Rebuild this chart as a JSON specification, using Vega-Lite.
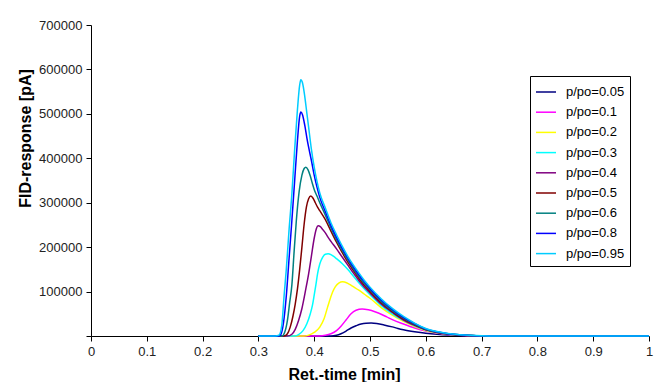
{
  "$schema": "https://vega.github.io/schema/vega-lite/v6.json",
  "width": 558,
  "height": 311,
  "padding": {"left": 17, "top": 19, "right": 5, "bottom": 0},
  "background": "white",
  "config": {
    "view": {"stroke": null},
    "axis": {
      "grid": false,
      "domainColor": "black",
      "tickColor": "black",
      "labelFont": "Liberation Sans",
      "labelFontSize": 13,
      "labelColor": "#222",
      "titleFont": "Liberation Sans",
      "titleFontSize": 16,
      "titleFontWeight": "bold",
      "titleColor": "black"
    }
  },
  "datasets": {
    "curves": [
      {"s":"p/po=0.05","t":0.30,"v":0},{"s":"p/po=0.05","t":0.43,"v":0},{"s":"p/po=0.05","t":0.44,"v":1500},{"s":"p/po=0.05","t":0.448,"v":5000},{"s":"p/po=0.05","t":0.457,"v":11000},{"s":"p/po=0.05","t":0.466,"v":18000},{"s":"p/po=0.05","t":0.475,"v":23000},{"s":"p/po=0.05","t":0.484,"v":27000},{"s":"p/po=0.05","t":0.493,"v":28700},{"s":"p/po=0.05","t":0.502,"v":29000},{"s":"p/po=0.05","t":0.512,"v":28000},{"s":"p/po=0.05","t":0.525,"v":25000},{"s":"p/po=0.05","t":0.54,"v":20500},{"s":"p/po=0.05","t":0.55,"v":17000},{"s":"p/po=0.05","t":0.56,"v":14000},{"s":"p/po=0.05","t":0.58,"v":9500},{"s":"p/po=0.05","t":0.60,"v":6000},{"s":"p/po=0.05","t":0.62,"v":3700},{"s":"p/po=0.05","t":0.64,"v":2100},{"s":"p/po=0.05","t":0.66,"v":1100},{"s":"p/po=0.05","t":0.68,"v":500},{"s":"p/po=0.05","t":0.70,"v":200},{"s":"p/po=0.05","t":0.73,"v":40},{"s":"p/po=0.05","t":0.76,"v":0},{"s":"p/po=0.05","t":1.0,"v":0},

      {"s":"p/po=0.1","t":0.30,"v":0},{"s":"p/po=0.1","t":0.41,"v":0},{"s":"p/po=0.1","t":0.42,"v":1500},{"s":"p/po=0.1","t":0.43,"v":5000},{"s":"p/po=0.1","t":0.44,"v":12000},{"s":"p/po=0.1","t":0.448,"v":22000},{"s":"p/po=0.1","t":0.457,"v":36000},{"s":"p/po=0.1","t":0.466,"v":50000},{"s":"p/po=0.1","t":0.475,"v":58000},{"s":"p/po=0.1","t":0.486,"v":61000},{"s":"p/po=0.1","t":0.497,"v":59000},{"s":"p/po=0.1","t":0.51,"v":54000},{"s":"p/po=0.1","t":0.52,"v":49000},{"s":"p/po=0.1","t":0.53,"v":43000},{"s":"p/po=0.1","t":0.54,"v":37000},{"s":"p/po=0.1","t":0.56,"v":27000},{"s":"p/po=0.1","t":0.58,"v":18000},{"s":"p/po=0.1","t":0.60,"v":11000},{"s":"p/po=0.1","t":0.62,"v":6500},{"s":"p/po=0.1","t":0.64,"v":3600},{"s":"p/po=0.1","t":0.66,"v":1800},{"s":"p/po=0.1","t":0.68,"v":800},{"s":"p/po=0.1","t":0.70,"v":300},{"s":"p/po=0.1","t":0.73,"v":60},{"s":"p/po=0.1","t":0.76,"v":0},{"s":"p/po=0.1","t":1.0,"v":0},

      {"s":"p/po=0.2","t":0.30,"v":0},{"s":"p/po=0.2","t":0.382,"v":0},{"s":"p/po=0.2","t":0.39,"v":2000},{"s":"p/po=0.2","t":0.40,"v":8000},{"s":"p/po=0.2","t":0.41,"v":20000},{"s":"p/po=0.2","t":0.418,"v":40000},{"s":"p/po=0.2","t":0.424,"v":65000},{"s":"p/po=0.2","t":0.429,"v":85000},{"s":"p/po=0.2","t":0.433,"v":99000},{"s":"p/po=0.2","t":0.438,"v":111000},{"s":"p/po=0.2","t":0.444,"v":119000},{"s":"p/po=0.2","t":0.451,"v":122000},{"s":"p/po=0.2","t":0.458,"v":120000},{"s":"p/po=0.2","t":0.465,"v":115000},{"s":"p/po=0.2","t":0.47,"v":111000},{"s":"p/po=0.2","t":0.48,"v":103000},{"s":"p/po=0.2","t":0.49,"v":94000},{"s":"p/po=0.2","t":0.50,"v":85000},{"s":"p/po=0.2","t":0.52,"v":64000},{"s":"p/po=0.2","t":0.54,"v":47000},{"s":"p/po=0.2","t":0.56,"v":33000},{"s":"p/po=0.2","t":0.58,"v":21500},{"s":"p/po=0.2","t":0.60,"v":12500},{"s":"p/po=0.2","t":0.62,"v":7200},{"s":"p/po=0.2","t":0.64,"v":4000},{"s":"p/po=0.2","t":0.66,"v":2000},{"s":"p/po=0.2","t":0.68,"v":900},{"s":"p/po=0.2","t":0.70,"v":350},{"s":"p/po=0.2","t":0.73,"v":80},{"s":"p/po=0.2","t":0.76,"v":0},{"s":"p/po=0.2","t":1.0,"v":0},

      {"s":"p/po=0.3","t":0.30,"v":0},{"s":"p/po=0.3","t":0.365,"v":0},{"s":"p/po=0.3","t":0.372,"v":3000},{"s":"p/po=0.3","t":0.38,"v":12000},{"s":"p/po=0.3","t":0.387,"v":28000},{"s":"p/po=0.3","t":0.393,"v":50000},{"s":"p/po=0.3","t":0.397,"v":70000},{"s":"p/po=0.3","t":0.40,"v":92000},{"s":"p/po=0.3","t":0.403,"v":115000},{"s":"p/po=0.3","t":0.406,"v":140000},{"s":"p/po=0.3","t":0.41,"v":162000},{"s":"p/po=0.3","t":0.415,"v":177000},{"s":"p/po=0.3","t":0.42,"v":184000},{"s":"p/po=0.3","t":0.425,"v":185000},{"s":"p/po=0.3","t":0.43,"v":183000},{"s":"p/po=0.3","t":0.435,"v":179000},{"s":"p/po=0.3","t":0.44,"v":174000},{"s":"p/po=0.3","t":0.45,"v":163000},{"s":"p/po=0.3","t":0.46,"v":150000},{"s":"p/po=0.3","t":0.47,"v":135000},{"s":"p/po=0.3","t":0.48,"v":120000},{"s":"p/po=0.3","t":0.49,"v":106000},{"s":"p/po=0.3","t":0.50,"v":93000},{"s":"p/po=0.3","t":0.52,"v":69000},{"s":"p/po=0.3","t":0.54,"v":50000},{"s":"p/po=0.3","t":0.56,"v":35000},{"s":"p/po=0.3","t":0.58,"v":23000},{"s":"p/po=0.3","t":0.60,"v":13500},{"s":"p/po=0.3","t":0.62,"v":7700},{"s":"p/po=0.3","t":0.64,"v":4200},{"s":"p/po=0.3","t":0.66,"v":2200},{"s":"p/po=0.3","t":0.68,"v":1000},{"s":"p/po=0.3","t":0.70,"v":400},{"s":"p/po=0.3","t":0.73,"v":100},{"s":"p/po=0.3","t":0.76,"v":0},{"s":"p/po=0.3","t":1.0,"v":0},

      {"s":"p/po=0.4","t":0.30,"v":0},{"s":"p/po=0.4","t":0.352,"v":0},{"s":"p/po=0.4","t":0.36,"v":4000},{"s":"p/po=0.4","t":0.366,"v":15000},{"s":"p/po=0.4","t":0.372,"v":35000},{"s":"p/po=0.4","t":0.378,"v":62000},{"s":"p/po=0.4","t":0.385,"v":106000},{"s":"p/po=0.4","t":0.39,"v":140000},{"s":"p/po=0.4","t":0.395,"v":180000},{"s":"p/po=0.4","t":0.40,"v":220000},{"s":"p/po=0.4","t":0.404,"v":242000},{"s":"p/po=0.4","t":0.407,"v":248000},{"s":"p/po=0.4","t":0.411,"v":246000},{"s":"p/po=0.4","t":0.415,"v":240000},{"s":"p/po=0.4","t":0.42,"v":232000},{"s":"p/po=0.4","t":0.425,"v":222000},{"s":"p/po=0.4","t":0.43,"v":213000},{"s":"p/po=0.4","t":0.44,"v":196000},{"s":"p/po=0.4","t":0.45,"v":178000},{"s":"p/po=0.4","t":0.46,"v":160000},{"s":"p/po=0.4","t":0.47,"v":142000},{"s":"p/po=0.4","t":0.48,"v":125000},{"s":"p/po=0.4","t":0.49,"v":110000},{"s":"p/po=0.4","t":0.50,"v":97000},{"s":"p/po=0.4","t":0.52,"v":72000},{"s":"p/po=0.4","t":0.54,"v":53000},{"s":"p/po=0.4","t":0.56,"v":36000},{"s":"p/po=0.4","t":0.58,"v":24000},{"s":"p/po=0.4","t":0.60,"v":14000},{"s":"p/po=0.4","t":0.62,"v":8000},{"s":"p/po=0.4","t":0.64,"v":4400},{"s":"p/po=0.4","t":0.66,"v":2300},{"s":"p/po=0.4","t":0.68,"v":1100},{"s":"p/po=0.4","t":0.70,"v":400},{"s":"p/po=0.4","t":0.73,"v":100},{"s":"p/po=0.4","t":0.76,"v":0},{"s":"p/po=0.4","t":1.0,"v":0},

      {"s":"p/po=0.5","t":0.30,"v":0},{"s":"p/po=0.5","t":0.346,"v":0},{"s":"p/po=0.5","t":0.352,"v":5000},{"s":"p/po=0.5","t":0.357,"v":20000},{"s":"p/po=0.5","t":0.362,"v":45000},{"s":"p/po=0.5","t":0.366,"v":72000},{"s":"p/po=0.5","t":0.37,"v":106000},{"s":"p/po=0.5","t":0.374,"v":150000},{"s":"p/po=0.5","t":0.378,"v":200000},{"s":"p/po=0.5","t":0.382,"v":252000},{"s":"p/po=0.5","t":0.386,"v":290000},{"s":"p/po=0.5","t":0.39,"v":309000},{"s":"p/po=0.5","t":0.394,"v":315000},{"s":"p/po=0.5","t":0.398,"v":310000},{"s":"p/po=0.5","t":0.402,"v":300000},{"s":"p/po=0.5","t":0.406,"v":290000},{"s":"p/po=0.5","t":0.41,"v":282000},{"s":"p/po=0.5","t":0.42,"v":262000},{"s":"p/po=0.5","t":0.43,"v":236000},{"s":"p/po=0.5","t":0.44,"v":211000},{"s":"p/po=0.5","t":0.45,"v":188000},{"s":"p/po=0.5","t":0.46,"v":167000},{"s":"p/po=0.5","t":0.47,"v":148000},{"s":"p/po=0.5","t":0.48,"v":130000},{"s":"p/po=0.5","t":0.49,"v":114000},{"s":"p/po=0.5","t":0.50,"v":100000},{"s":"p/po=0.5","t":0.52,"v":75000},{"s":"p/po=0.5","t":0.54,"v":55000},{"s":"p/po=0.5","t":0.56,"v":38000},{"s":"p/po=0.5","t":0.58,"v":25000},{"s":"p/po=0.5","t":0.60,"v":14500},{"s":"p/po=0.5","t":0.62,"v":8500},{"s":"p/po=0.5","t":0.64,"v":4700},{"s":"p/po=0.5","t":0.66,"v":2500},{"s":"p/po=0.5","t":0.68,"v":1200},{"s":"p/po=0.5","t":0.70,"v":450},{"s":"p/po=0.5","t":0.73,"v":100},{"s":"p/po=0.5","t":0.76,"v":0},{"s":"p/po=0.5","t":1.0,"v":0},

      {"s":"p/po=0.6","t":0.30,"v":0},{"s":"p/po=0.6","t":0.342,"v":0},{"s":"p/po=0.6","t":0.347,"v":8000},{"s":"p/po=0.6","t":0.352,"v":35000},{"s":"p/po=0.6","t":0.356,"v":75000},{"s":"p/po=0.6","t":0.36,"v":115000},{"s":"p/po=0.6","t":0.364,"v":190000},{"s":"p/po=0.6","t":0.368,"v":260000},{"s":"p/po=0.6","t":0.373,"v":325000},{"s":"p/po=0.6","t":0.378,"v":362000},{"s":"p/po=0.6","t":0.382,"v":377000},{"s":"p/po=0.6","t":0.385,"v":380000},{"s":"p/po=0.6","t":0.389,"v":374000},{"s":"p/po=0.6","t":0.393,"v":360000},{"s":"p/po=0.6","t":0.397,"v":342000},{"s":"p/po=0.6","t":0.40,"v":330000},{"s":"p/po=0.6","t":0.405,"v":315000},{"s":"p/po=0.6","t":0.41,"v":300000},{"s":"p/po=0.6","t":0.42,"v":272000},{"s":"p/po=0.6","t":0.43,"v":243000},{"s":"p/po=0.6","t":0.44,"v":217000},{"s":"p/po=0.6","t":0.45,"v":193000},{"s":"p/po=0.6","t":0.46,"v":172000},{"s":"p/po=0.6","t":0.47,"v":152000},{"s":"p/po=0.6","t":0.48,"v":134000},{"s":"p/po=0.6","t":0.49,"v":118000},{"s":"p/po=0.6","t":0.50,"v":104000},{"s":"p/po=0.6","t":0.52,"v":78000},{"s":"p/po=0.6","t":0.54,"v":57000},{"s":"p/po=0.6","t":0.56,"v":40000},{"s":"p/po=0.6","t":0.58,"v":26000},{"s":"p/po=0.6","t":0.60,"v":15000},{"s":"p/po=0.6","t":0.62,"v":9000},{"s":"p/po=0.6","t":0.64,"v":5000},{"s":"p/po=0.6","t":0.66,"v":2600},{"s":"p/po=0.6","t":0.68,"v":1300},{"s":"p/po=0.6","t":0.70,"v":500},{"s":"p/po=0.6","t":0.73,"v":100},{"s":"p/po=0.6","t":0.76,"v":0},{"s":"p/po=0.6","t":1.0,"v":0},

      {"s":"p/po=0.8","t":0.30,"v":0},{"s":"p/po=0.8","t":0.335,"v":0},{"s":"p/po=0.8","t":0.34,"v":3000},{"s":"p/po=0.8","t":0.345,"v":30000},{"s":"p/po=0.8","t":0.35,"v":90000},{"s":"p/po=0.8","t":0.355,"v":175000},{"s":"p/po=0.8","t":0.36,"v":260000},{"s":"p/po=0.8","t":0.365,"v":350000},{"s":"p/po=0.8","t":0.37,"v":440000},{"s":"p/po=0.8","t":0.374,"v":495000},{"s":"p/po=0.8","t":0.376,"v":504000},{"s":"p/po=0.8","t":0.379,"v":498000},{"s":"p/po=0.8","t":0.383,"v":475000},{"s":"p/po=0.8","t":0.387,"v":445000},{"s":"p/po=0.8","t":0.39,"v":425000},{"s":"p/po=0.8","t":0.395,"v":395000},{"s":"p/po=0.8","t":0.40,"v":362000},{"s":"p/po=0.8","t":0.405,"v":335000},{"s":"p/po=0.8","t":0.41,"v":312000},{"s":"p/po=0.8","t":0.42,"v":280000},{"s":"p/po=0.8","t":0.43,"v":249000},{"s":"p/po=0.8","t":0.44,"v":222000},{"s":"p/po=0.8","t":0.45,"v":198000},{"s":"p/po=0.8","t":0.46,"v":176000},{"s":"p/po=0.8","t":0.47,"v":156000},{"s":"p/po=0.8","t":0.48,"v":138000},{"s":"p/po=0.8","t":0.49,"v":122000},{"s":"p/po=0.8","t":0.50,"v":107000},{"s":"p/po=0.8","t":0.52,"v":81000},{"s":"p/po=0.8","t":0.54,"v":60000},{"s":"p/po=0.8","t":0.56,"v":42000},{"s":"p/po=0.8","t":0.58,"v":28000},{"s":"p/po=0.8","t":0.60,"v":16000},{"s":"p/po=0.8","t":0.62,"v":9500},{"s":"p/po=0.8","t":0.64,"v":5200},{"s":"p/po=0.8","t":0.66,"v":2800},{"s":"p/po=0.8","t":0.68,"v":1400},{"s":"p/po=0.8","t":0.70,"v":500},{"s":"p/po=0.8","t":0.73,"v":100},{"s":"p/po=0.8","t":0.76,"v":0},{"s":"p/po=0.8","t":1.0,"v":0},

      {"s":"p/po=0.95","t":0.30,"v":0},{"s":"p/po=0.95","t":0.33,"v":0},{"s":"p/po=0.95","t":0.337,"v":2000},{"s":"p/po=0.95","t":0.342,"v":25000},{"s":"p/po=0.95","t":0.346,"v":90000},{"s":"p/po=0.95","t":0.35,"v":150000},{"s":"p/po=0.95","t":0.355,"v":240000},{"s":"p/po=0.95","t":0.36,"v":320000},{"s":"p/po=0.95","t":0.365,"v":420000},{"s":"p/po=0.95","t":0.37,"v":510000},{"s":"p/po=0.95","t":0.374,"v":565000},{"s":"p/po=0.95","t":0.376,"v":577000},{"s":"p/po=0.95","t":0.379,"v":570000},{"s":"p/po=0.95","t":0.383,"v":540000},{"s":"p/po=0.95","t":0.387,"v":500000},{"s":"p/po=0.95","t":0.39,"v":470000},{"s":"p/po=0.95","t":0.395,"v":420000},{"s":"p/po=0.95","t":0.40,"v":380000},{"s":"p/po=0.95","t":0.405,"v":348000},{"s":"p/po=0.95","t":0.41,"v":322000},{"s":"p/po=0.95","t":0.42,"v":288000},{"s":"p/po=0.95","t":0.43,"v":255000},{"s":"p/po=0.95","t":0.44,"v":228000},{"s":"p/po=0.95","t":0.45,"v":203000},{"s":"p/po=0.95","t":0.46,"v":180000},{"s":"p/po=0.95","t":0.47,"v":160000},{"s":"p/po=0.95","t":0.48,"v":142000},{"s":"p/po=0.95","t":0.49,"v":125000},{"s":"p/po=0.95","t":0.50,"v":110000},{"s":"p/po=0.95","t":0.52,"v":84000},{"s":"p/po=0.95","t":0.54,"v":62000},{"s":"p/po=0.95","t":0.56,"v":44000},{"s":"p/po=0.95","t":0.58,"v":29000},{"s":"p/po=0.95","t":0.60,"v":17000},{"s":"p/po=0.95","t":0.62,"v":10000},{"s":"p/po=0.95","t":0.64,"v":5500},{"s":"p/po=0.95","t":0.66,"v":3000},{"s":"p/po=0.95","t":0.68,"v":1500},{"s":"p/po=0.95","t":0.70,"v":600},{"s":"p/po=0.95","t":0.73,"v":100},{"s":"p/po=0.95","t":0.76,"v":0},{"s":"p/po=0.95","t":1.0,"v":0}
    ]
  },
  "data": {"name": "curves"},
  "mark": {"type": "line", "strokeWidth": 1.5, "interpolate": "monotone"},
  "encoding": {
    "x": {
      "field": "t", "type": "quantitative",
      "scale": {"domain": [0, 1], "nice": false, "zero": false},
      "axis": {
        "title": "Ret.-time [min]",
        "values": [0, 0.1, 0.2, 0.3, 0.4, 0.5, 0.6, 0.7, 0.8, 0.9, 1],
        "format": "~g",
        "tickSize": 5,
        "labelPadding": 4,
        "titlePadding": 8,
        "titleX": 253,
        "labelFlush": false
      }
    },
    "y": {
      "field": "v", "type": "quantitative",
      "scale": {"domain": [0, 700000], "nice": false},
      "axis": {
        "title": "FID-response [pA]",
        "values": [0, 100000, 200000, 300000, 400000, 500000, 600000, 700000],
        "format": "d",
        "labelExpr": "datum.value == 0 ? '' : datum.label",
        "tickSize": 5,
        "labelPadding": 4,
        "titlePadding": 5,
        "titleY": 113
      }
    },
    "color": {
      "field": "s", "type": "nominal",
      "scale": {
        "domain": ["p/po=0.05","p/po=0.1","p/po=0.2","p/po=0.3","p/po=0.4","p/po=0.5","p/po=0.6","p/po=0.8","p/po=0.95"],
        "range": ["#000080","#FF00FF","#FFFF00","#00FFFF","#800080","#800000","#008080","#0000FF","#00CCFF"]
      },
      "legend": {
        "title": null,
        "orient": "none",
        "legendX": 439,
        "legendY": 51,
        "strokeColor": "black",
        "fillColor": "white",
        "padding": 5,
        "symbolType": "stroke",
        "symbolSize": 400,
        "symbolStrokeWidth": 1.5,
        "labelFont": "Liberation Sans",
        "labelFontSize": 13,
        "labelColor": "black",
        "labelOffset": 9,
        "rowPadding": 2.2
      }
    }
  }
}
